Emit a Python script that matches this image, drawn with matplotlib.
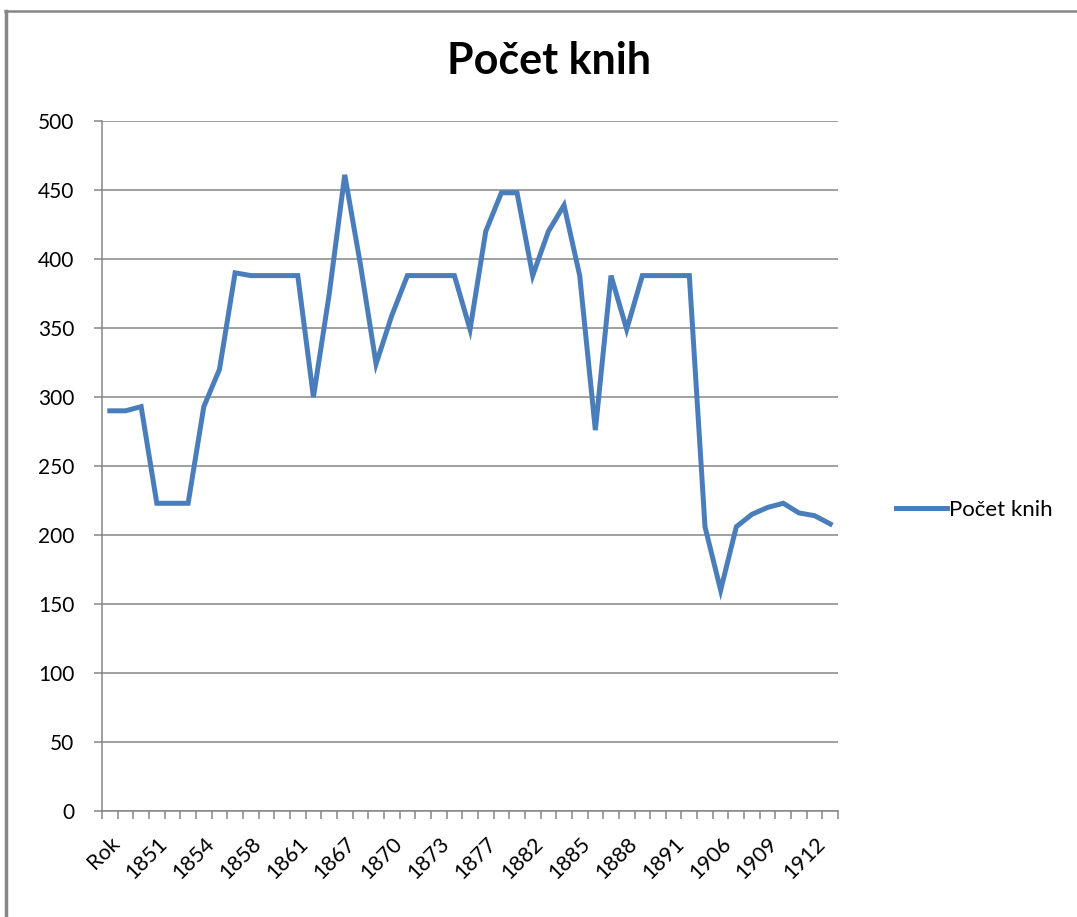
import numpy as np
import matplotlib.pyplot as plt
from matplotlib.lines import Line2D

plt.rcParams['font.family'] = ['Lato', 'DejaVu Sans']

# values per category (47 categories, every 3rd labelled)
values = [290, 290, 293, 223, 223, 223, 293, 320, 390, 388,
          388, 388, 388, 300, 374, 461, 396, 324, 359, 388,
          388, 388, 388, 349, 420, 448, 448, 388, 420, 439,
          388, 276, 388, 349, 388, 388, 388, 388, 206, 160,
          206, 215, 220, 223, 216, 214, 208]
shown_labels = ["Rok", "1851", "1854", "1858", "1861", "1867", "1870", "1873",
                "1877", "1882", "1885", "1888", "1891", "1906", "1909", "1912"]
series_name = "Počet knih"

grey = "#868686"
blue = "#4A7EBB"

fig = plt.figure(figsize=(10.77, 9.17), dpi=100)
ax = fig.add_axes([0.0947, 0.1156, 0.6835, 0.7524])

x = np.arange(len(values))
ax.plot(x, values, color=blue, lw=3.6, solid_joinstyle='miter', label=series_name)

ax.set_xlim(-0.5, len(values) - 0.5)
ax.set_ylim(0, 500)
ax.set_yticks(np.arange(0, 501, 50))
ax.yaxis.grid(True, color=grey, lw=1.1)
ax.set_axisbelow(True)

ax.set_xticks(np.arange(0, len(values), 3))
ax.set_xticklabels(shown_labels, rotation=45, ha='right', va='top',
                   rotation_mode='anchor')
ax.set_xticks(np.arange(-0.5, len(values), 1), minor=True)
ax.tick_params(axis='x', which='major', length=0, pad=16, labelsize=15.5)
ax.tick_params(axis='x', which='minor', length=6, color=grey, width=1.1)
ax.tick_params(axis='y', length=6, color=grey, width=1.1, labelsize=15, pad=14)

for s in ['top', 'right']:
    ax.spines[s].set_visible(False)
for s in ['left', 'bottom']:
    ax.spines[s].set_color(grey)
    ax.spines[s].set_linewidth(1.1)

fig.text(0.51, 0.933, "Počet knih", ha='center', va='center',
         fontsize=31, fontweight='bold')

leg = fig.legend(loc='center left', bbox_to_anchor=(0.813, 0.444), frameon=False,
                 fontsize=16, handlelength=2.3, handletextpad=0.1)

# chart border (top and left visible)
fig.add_artist(Line2D([4.5 / 1077, 1.0], [1 - 10.5 / 917, 1 - 10.5 / 917],
                      transform=fig.transFigure, color=grey, lw=1.8))
fig.add_artist(Line2D([6 / 1077, 6 / 1077], [1 - 10.5 / 917, 0.0],
                      transform=fig.transFigure, color=grey, lw=2.5))

fig.savefig("out.png", dpi=100)
